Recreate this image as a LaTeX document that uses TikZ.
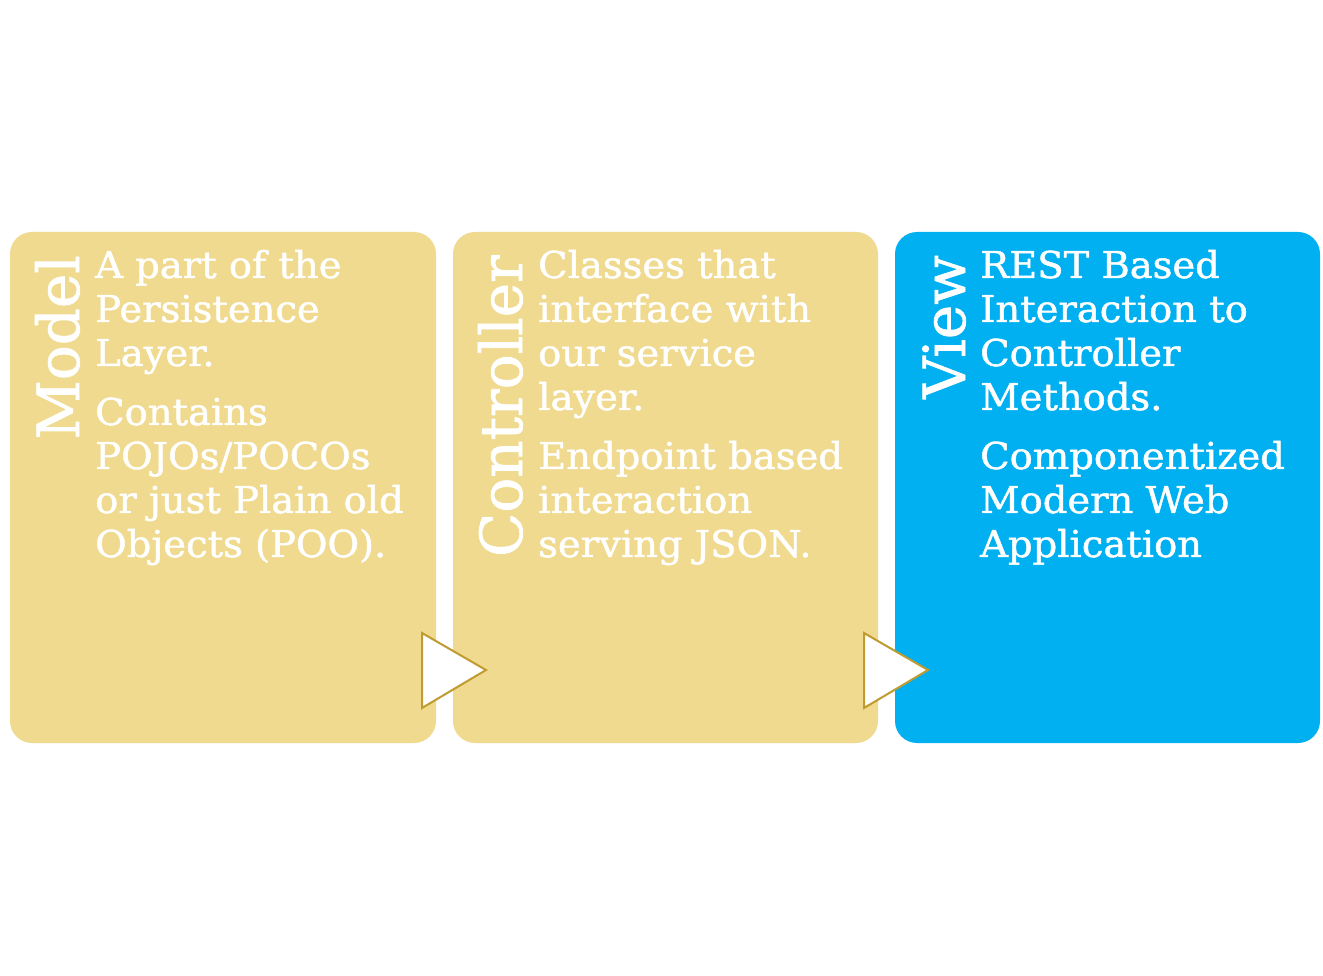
\documentclass[tikz,border=0pt]{standalone}
\usepackage{fontspec}
\setmainfont{DejaVu Serif}
\newfontfamily\panelfont{DejaVu Serif}[FakeBold=1.3,FakeStretch=1.04]
\newfontfamily\headfont{DejaVu Serif}[FakeBold=1.3]
\definecolor{sand}{HTML}{EFDA8F}
\definecolor{sky}{HTML}{00B0F0}
\definecolor{goldline}{HTML}{BF9B30}
\newcommand\stack[1]{\vtop{\halign{##\hfil\cr #1\crcr}}}
\newcommand\gap{\noalign{\vskip 15pt}}
\begin{document}
\begin{tikzpicture}[x=1pt,y=-1pt,
  panel/.style={rounded corners=22pt},
  title/.style={rotate=90,anchor=base east,text=white,inner sep=0pt,
    font=\headfont\fontsize{58}{58}\selectfont},
  body/.style={anchor=base west,text=white,inner sep=0pt,
    font=\panelfont\fontsize{37}{44}\selectfont},
  pointer/.style={fill=white,draw=goldline,line width=2pt,line join=miter}]
\useasboundingbox (0,0) rectangle (1323,976);
\fill[white] (0,0) rectangle (1323,976);
% three panels
\fill[sand,panel] (10,232) rectangle (436,743);
\fill[sand,panel] (453,232) rectangle (878,743);
\fill[sky,panel] (895,232) rectangle (1320,743);
% rotated headings
\node[title] (model) at (79,255) {Model};
\node[title] (ctrl) at (522,255) {Controller};
\node[title] (view) at (965,255) {View};
% panel texts
\node[body] (mtext) at (95,278) {\stack{A part of the\cr Persistence\cr Layer.\cr\gap Contains\cr POJOs/POCOs\cr or just Plain old\cr Objects (POO).}};
\node[body] (ctext) at (538,278) {\stack{Classes that\cr interface with\cr our service\cr layer.\cr\gap Endpoint based\cr interaction\cr serving JSON.}};
\node[body] (vtext) at (980,278) {\stack{REST Based\cr Interaction to\cr Controller\cr Methods.\cr\gap Componentized\cr Modern Web\cr Application}};
% step markers between panels
\draw[pointer] (422,633) -- (486,670) -- (422,708) -- cycle;
\draw[pointer] (864,633) -- (928,670) -- (864,708) -- cycle;
\end{tikzpicture}
\end{document}
